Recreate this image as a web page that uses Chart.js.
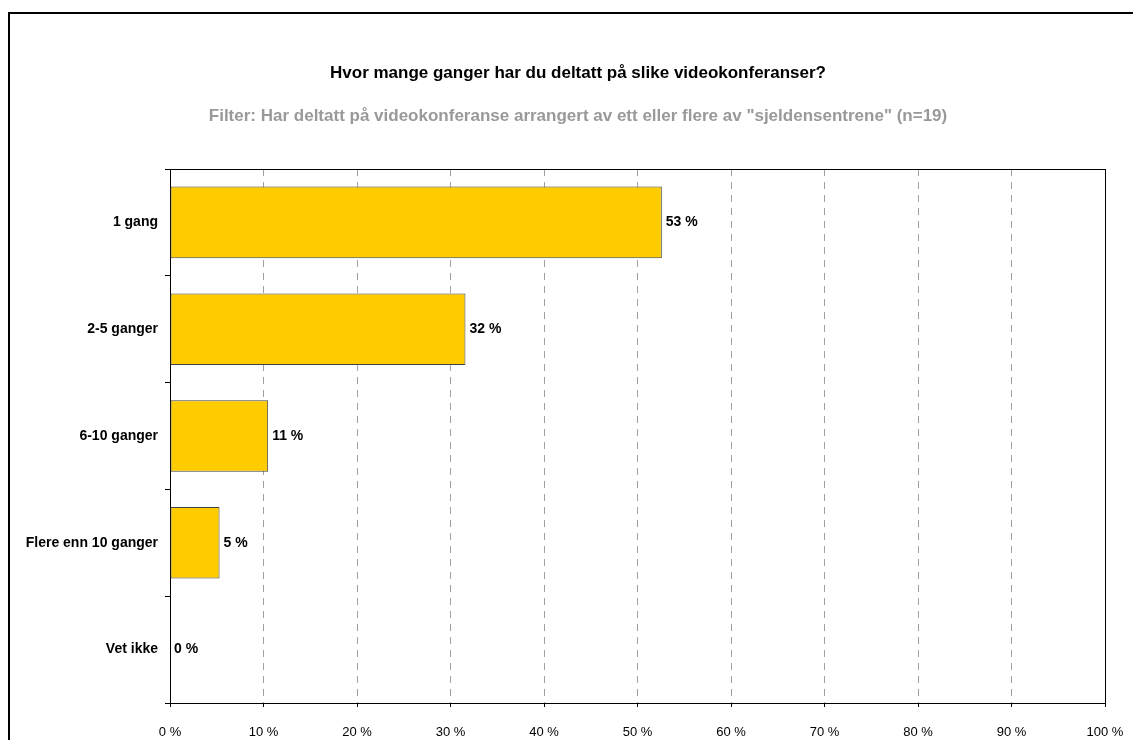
<!DOCTYPE html>
<html>
<head>
<meta charset="utf-8">
<script src="https://cdn.jsdelivr.net/npm/chart.js@4.4.1/dist/chart.umd.min.js"></script>
<style>
  html, body { margin: 0; padding: 0; background: #fff; }
  #wrap { position: relative; width: 1133px; height: 740px; overflow: hidden; }
  #frame { position: absolute; left: 8px; top: 12px; width: 1200px; height: 800px; border: 2px solid #000; box-sizing: border-box; }
  #chart { position: absolute; left: 0; top: 0; }
</style>
</head>
<body>
<div id="wrap">
  <div id="frame"></div>
  <canvas id="chart" width="1133" height="740"></canvas>
</div>
<script>
const FONT = "Arial, 'Liberation Sans', sans-serif";

const chartTitle = "Hvor mange ganger har du deltatt på slike videokonferanser?";
const chartSubtitle = 'Filter: Har deltatt på videokonferanse arrangert av ett eller flere av "sjeldensentrene" (n=19)';

const categories = ["1 gang", "2-5 ganger", "6-10 ganger", "Flere enn 10 ganger", "Vet ikke"];
// andel i prosent (n=19)
const shares = [52.6, 31.6, 10.5, 5.3, 0];

const X_MIN = 0;
const X_MAX = 100;
const X_STEP = 10;

// overskrift og filtertekst, sentrert over rammen
const TITLE_X = 578;
const titleBlock = {
  id: "titleBlock",
  afterDraw(chart) {
    const ctx = chart.ctx;
    ctx.save();
    ctx.textAlign = "center";
    ctx.textBaseline = "middle";
    ctx.font = "bold 17px " + FONT;
    ctx.fillStyle = "#000";
    ctx.fillText(chartTitle, TITLE_X, 73);
    ctx.fillStyle = "#999";
    ctx.fillText(chartSubtitle, TITLE_X, 116);
    ctx.restore();
  }
};

// tallverdier ved enden av hver stolpe
const valueLabels = {
  id: "valueLabels",
  afterDatasetsDraw(chart) {
    const ctx = chart.ctx;
    const meta = chart.getDatasetMeta(0);
    ctx.save();
    ctx.font = "bold 14px " + FONT;
    ctx.fillStyle = "#000";
    ctx.textAlign = "left";
    ctx.textBaseline = "middle";
    meta.data.forEach((bar, i) => {
      ctx.fillText(Math.round(shares[i]) + " %", bar.x + 4, bar.y);
    });
    ctx.restore();
  }
};

// svart ramme rundt plottområdet
const plotFrame = {
  id: "plotFrame",
  beforeDatasetsDraw(chart) {
    const a = chart.chartArea;
    const ctx = chart.ctx;
    ctx.save();
    ctx.strokeStyle = "#000";
    ctx.lineWidth = 1;
    ctx.strokeRect(Math.round(a.left) + 0.5, Math.round(a.top) + 0.5,
      Math.round(a.right - a.left), Math.round(a.bottom - a.top));
    ctx.restore();
  }
};

const ctx = document.getElementById("chart").getContext("2d");

const chart = new Chart(ctx, {
  type: "bar",
  data: {
    labels: categories,
    datasets: [{
      data: shares,
      backgroundColor: "#FFCC00",
      borderColor: "#404040",
      borderWidth: 1,
      borderSkipped: false,
      categoryPercentage: 1,
      barPercentage: 0.67
    }]
  },
  options: {
    indexAxis: "y",
    responsive: false,
    animation: false,
    layout: {
      padding: { left: 8, right: 28, top: 169, bottom: 0 }
    },
    scales: {
      x: {
        type: "linear",
        min: X_MIN,
        max: X_MAX,
        ticks: {
          stepSize: X_STEP,
          callback: v => v + " %",
          color: "#000",
          font: { family: FONT, size: 13 },
          padding: 18,
          maxRotation: 0
        },
        grid: {
          color: "#a0a0a0",
          lineWidth: 1,
          drawTicks: true,
          tickLength: 4,
          tickColor: "#000"
        },
        border: { display: true, color: "#000", width: 1, dash: [7, 6] },
        afterFit(scale) {
          scale.height = 37;
          // "100 %" får stikke ut i høyre marg
          scale.paddingLeft = 0;
          scale.paddingRight = 0;
        }
      },
      y: {
        type: "category",
        offset: true,
        ticks: {
          color: "#000",
          font: { family: FONT, size: 14, weight: "bold" },
          padding: 7
        },
        grid: {
          offset: true,
          drawOnChartArea: false,
          drawTicks: true,
          tickLength: 5,
          tickColor: "#000"
        },
        border: { display: true, color: "#000", width: 1 },
        afterFit(scale) {
          scale.width = 162;
        }
      }
    },
    plugins: {
      legend: { display: false },
      tooltip: { enabled: false },
      title: { display: false }
    }
  },
  plugins: [plotFrame, valueLabels, titleBlock]
});
</script>
</body>
</html>
